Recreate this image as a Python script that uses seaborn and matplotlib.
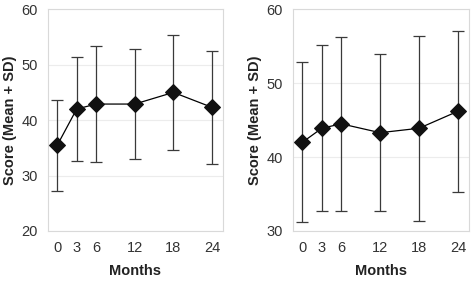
import matplotlib
matplotlib.use("Agg")
import matplotlib.pyplot as plt
import seaborn as sns
import pandas as pd

# Values
months = [0, 3, 6, 12, 18, 24]

left_mean = [35.5, 42.0, 42.9, 42.9, 45.0, 42.3]
left_sd = [8.2, 9.4, 10.4, 10.0, 10.3, 10.2]

right_mean = [42.0, 43.9, 44.5, 43.3, 43.9, 46.2]
right_sd = [10.8, 11.2, 11.8, 10.6, 12.5, 10.9]

sns.set_style("white")
plt.rcParams['font.family'] = ['Liberation Sans', 'DejaVu Sans']

fig = plt.figure(figsize=(4.72, 2.81), dpi=100)
ax1 = fig.add_axes([0.101, 0.178, 0.371, 0.789])
ax2 = fig.add_axes([0.620, 0.178, 0.373, 0.789])


def draw_panel(ax, mean, sd, ylim, yticks):
    df = pd.DataFrame({'Months': months, 'Score': mean, 'SD': sd})
    ax.errorbar(df['Months'], df['Score'], yerr=df['SD'], fmt='none',
                ecolor='#3a3a3a', elinewidth=0.9, capsize=4, capthick=0.9, zorder=2)
    sns.lineplot(data=df, x='Months', y='Score', ax=ax, color='black',
                 linewidth=0.9, marker='D', markersize=8,
                 markerfacecolor='#111111', markeredgecolor='#111111', zorder=3)
    ax.set_xlim(-1.5, 25.66)
    ax.set_ylim(*ylim)
    ax.set_yticks(yticks)
    ax.set_xticks(months)
    ax.yaxis.grid(True, color='#ececec', linewidth=0.8)
    ax.set_axisbelow(True)
    for s in ax.spines.values():
        s.set_color('#d9d9d9')
        s.set_linewidth(0.8)
    ax.tick_params(axis='both', length=0, labelsize=10.5, labelcolor='#333333', pad=7)
    ax.set_xlabel('Months', fontsize=10.5, fontweight='bold', color='#222222', labelpad=7)
    ax.set_ylabel('Score (Mean + SD)', fontsize=10.5, fontweight='bold', color='#222222', labelpad=3)


draw_panel(ax1, left_mean, left_sd, (20, 60), [20, 30, 40, 50, 60])
draw_panel(ax2, right_mean, right_sd, (30, 60), [30, 40, 50, 60])

fig.savefig('out.png', dpi=100)
